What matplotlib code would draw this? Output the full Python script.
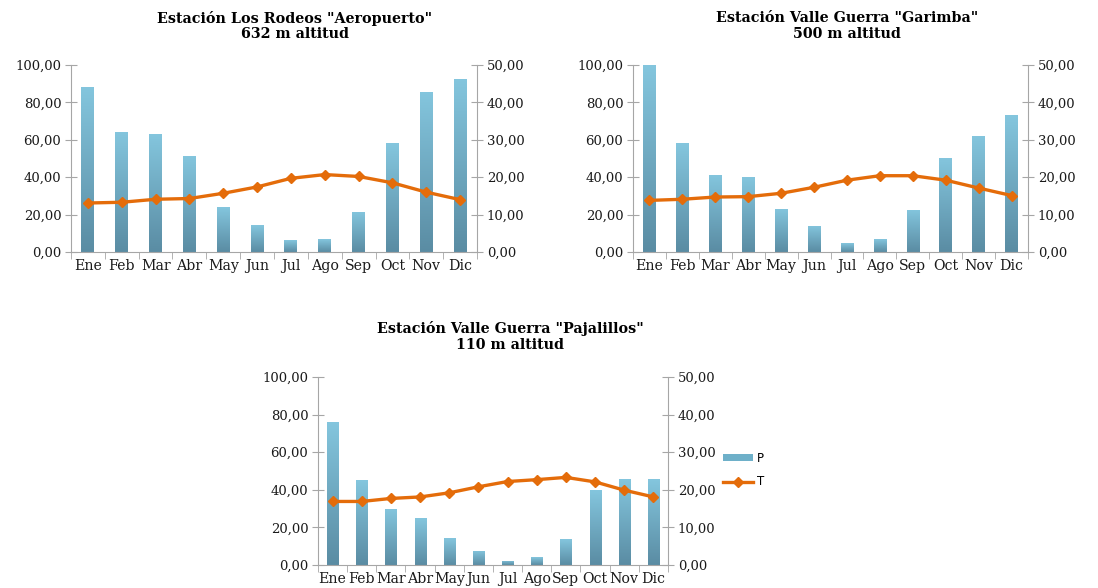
import numpy as np
import matplotlib
matplotlib.use("Agg")
import matplotlib.pyplot as plt
from matplotlib.colors import LinearSegmentedColormap
from matplotlib.patches import Patch
from matplotlib.lines import Line2D
from matplotlib.ticker import FuncFormatter

months = ["Ene", "Feb", "Mar", "Abr", "May", "Jun", "Jul", "Ago", "Sep", "Oct", "Nov", "Dic"]

titles = ['Estación Los Rodeos "Aeropuerto"',
          'Estación Valle Guerra "Garimba"',
          'Estación Valle Guerra "Pajalillos"']
altitudes = ["632 m altitud", "500 m altitud", "110 m altitud"]

p_rodeos = [88.4, 64.4, 63.3, 51.6, 23.8, 14.4, 6.2, 6.9, 21.4, 58.2, 85.6, 92.7]
t_rodeos = [13.1, 13.3, 14.1, 14.3, 15.7, 17.4, 19.7, 20.7, 20.2, 18.5, 16.0, 14.0]

p_garimba = [100.0, 58.2, 41.3, 40.0, 23.0, 14.1, 4.6, 6.9, 22.6, 50.4, 62.1, 73.1]
t_garimba = [13.8, 14.1, 14.7, 14.8, 15.7, 17.3, 19.2, 20.4, 20.4, 19.2, 17.1, 15.1]

p_pajalillos = [76.1, 45.2, 29.9, 24.9, 14.3, 7.6, 2.3, 4.1, 13.6, 39.8, 45.6, 45.6]
t_pajalillos = [16.9, 16.9, 17.7, 18.1, 19.2, 20.8, 22.2, 22.7, 23.3, 22.1, 19.9, 18.1]

W, H = 1098, 588
fig = plt.figure(figsize=(W / 100, H / 100), dpi=100)
fig.patch.set_facecolor("white")

SERIF = ["DejaVu Serif"]
BAR_LIGHT = "#84c6de"
BAR_DARK = "#5a8ca3"
LINE_C = "#e46c0a"
SPINE_C = "#a6a6a6"
cmap = LinearSegmentedColormap.from_list("bar", [BAR_DARK, BAR_LIGHT])
fmt = FuncFormatter(lambda v, pos: f"{v:.2f}".replace(".", ","))


def px_axes(x0, y0, x1, y1):
    return [x0 / W, 1 - y1 / H, (x1 - x0) / W, (y1 - y0) / H]


def draw(rect, title, alt, P, T, tcx, ty1, ty2):
    ax = fig.add_axes(px_axes(*rect))
    x = np.arange(len(months))
    bars = ax.bar(x, P, width=0.38, color=BAR_LIGHT, zorder=2)
    grad = np.linspace(1, 0, 256).reshape(-1, 1)
    for b in bars:
        bx, bw, bh = b.get_x(), b.get_width(), b.get_height()
        im = ax.imshow(grad, cmap=cmap, extent=[bx, bx + bw, 0, bh],
                       aspect="auto", zorder=2.1, interpolation="bilinear")
        im.set_clip_path(b)
    ax.set_xlim(-0.5, len(months) - 0.5)
    ax.set_ylim(0, 100)
    ax.set_yticks(np.arange(0, 101, 20))
    ax.yaxis.set_major_formatter(fmt)
    ax.set_xticks(x)
    ax.set_xticklabels(months, fontfamily=SERIF, fontsize=10.2)
    ax.set_xticks(np.arange(-0.5, len(months), 1), minor=True)
    ax.tick_params(axis="x", which="major", length=0, pad=5, colors="#1a1a1a")
    ax.tick_params(axis="x", which="minor", length=5, direction="out", color=SPINE_C)
    ax.tick_params(axis="y", which="major", length=8, direction="inout", color=SPINE_C,
                   labelsize=9.5, pad=3, labelcolor="#1a1a1a")
    for lab in ax.get_yticklabels():
        lab.set_fontfamily(SERIF)
    for s in ["top", "right"]:
        ax.spines[s].set_visible(False)
    for s in ["left", "bottom"]:
        ax.spines[s].set_color(SPINE_C)

    ax2 = ax.twinx()
    ax2.plot(x, T, color=LINE_C, lw=2.4, marker="D", ms=5.5, zorder=3)
    ax2.set_ylim(0, 50)
    ax2.set_yticks(np.arange(0, 51, 10))
    ax2.yaxis.set_major_formatter(fmt)
    ax2.tick_params(axis="y", which="major", length=8, direction="inout", color=SPINE_C,
                    labelsize=9.5, pad=3, labelcolor="#1a1a1a")
    for lab in ax2.get_yticklabels():
        lab.set_fontfamily(SERIF)
    for s in ["top", "left", "bottom"]:
        ax2.spines[s].set_visible(False)
    ax2.spines["right"].set_color(SPINE_C)

    fig.text(tcx / W, 1 - ty1 / H, title, ha="center", va="center",
             fontfamily=SERIF, fontweight="bold", fontsize=10.3)
    fig.text(tcx / W, 1 - ty2 / H, alt, ha="center", va="center",
             fontfamily=SERIF, fontweight="bold", fontsize=10.3)
    return ax, ax2


draw((71, 65, 477, 252), titles[0], altitudes[0], p_rodeos, t_rodeos, 295, 18, 34)
draw((633, 65, 1028, 252), titles[1], altitudes[1], p_garimba, t_garimba, 847, 18, 34)
draw((318, 377, 668, 565), titles[2], altitudes[2], p_pajalillos, t_pajalillos, 510, 329, 345)

handles = [Patch(facecolor="#6eb0c9", edgecolor="none"),
           Line2D([], [], color=LINE_C, lw=2.4, marker="D", ms=5)]
fig.legend(handles, ["P", "T"], loc="center left", bbox_to_anchor=(712 / W, 1 - 470 / H),
           frameon=False, handlelength=2.6, handleheight=0.5, handletextpad=0.3,
           labelspacing=0.9, prop={"family": "DejaVu Sans", "size": 8.5})

fig.savefig("out.png", dpi=100, facecolor="white")
